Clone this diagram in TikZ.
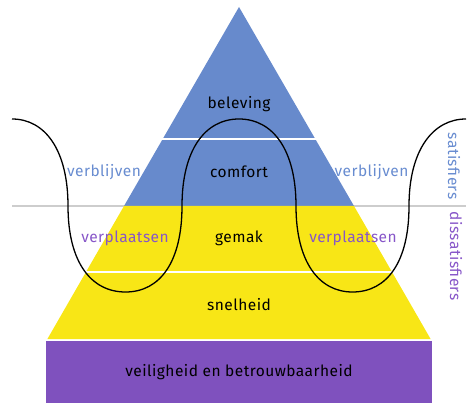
\documentclass[tikz,border=0pt]{standalone}
\usepackage{fontspec}
\setmainfont{Fira Sans}[LetterSpace=3]
\usepackage{tikz}
\usetikzlibrary{positioning}
\definecolor{LayerBlue}{RGB}{103,138,204}
\definecolor{LayerYellow}{RGB}{248,230,22}
\definecolor{LayerPurple}{RGB}{127,81,190}
\definecolor{TextBlue}{RGB}{104,140,208}
\definecolor{TextPurple}{RGB}{135,86,200}
\definecolor{MidGray}{RGB}{205,205,205}

\begin{document}
\begin{tikzpicture}[x=1pt,y=-1pt,
layertext/.style={font=\fontsize{15.5}{18}\selectfont, text=black, inner sep=0pt},
sidetext/.style={layertext, text=TextBlue},
movetext/.style={layertext, text=TextPurple},
divider/.style={draw=white, line width=1.6pt},
wave/.style={draw=black, line width=1.3pt},
]
\useasboundingbox (0,0) rectangle (468,403);

%Middle line
\draw[MidGray, line width=1.5pt] (12,206) -- (466,206);

%Pyramid
\fill[LayerBlue] (239,7) -- (354,206) -- (124,206) -- cycle;
\fill[LayerYellow] (124,206) -- (354,206) -- (430.6,339) -- (47.4,339) -- cycle;
\fill[LayerPurple] (46,341) rectangle (432,403);

%Dividers
\draw[divider] (161,139) -- (317,139);
\draw[divider] (84,272) -- (394,272);

%Wave
\draw[wave] (12,119)
 .. controls (45,119) and (68,150) .. (68,206)
 .. controls (68,262) and (91,292) .. (125.5,292)
 .. controls (160,292) and (182,262) .. (182,206)
 .. controls (182,150) and (205,119) .. (239,119)
 .. controls (273,119) and (296,150) .. (296,206)
 .. controls (296,262) and (319,292) .. (352.5,292)
 .. controls (387,292) and (409,262) .. (409,206)
 .. controls (409,150) and (433,119) .. (466,119);

%Layer labels
\node[layertext] (beleving) at (239,104) {beleving};
\node[layertext] (comfort) at (239,172) {comfort};
\node[layertext] (gemak) at (239,238) {gemak};
\node[layertext] (snelheid) at (239,305) {snelheid};
\node[layertext] (veiligheid) at (239,372) {veiligheid en betrouwbaarheid};

%Side labels
\node[sidetext] (verblijven_l) at (104,172) {verblijven};
\node[sidetext] (verblijven_r) at (371.5,172) {verblijven};
\node[movetext] (verplaatsen_l) at (125,238) {verplaatsen};
\node[movetext] (verplaatsen_r) at (353,238) {verplaatsen};

%Right labels
\node[sidetext, rotate=-90] (satisfiers) at (454,166) {satisfiers};
\node[movetext, rotate=-90] (dissatisfiers) at (456,256) {dissatisfiers};
\end{tikzpicture}
\end{document}
